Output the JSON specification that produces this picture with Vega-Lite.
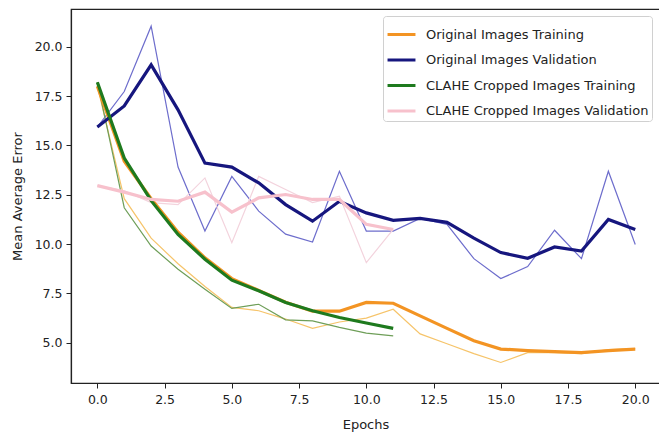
{
  "$schema": "https://vega.github.io/schema/vega-lite/v6.json",
  "width": 589,
  "height": 374,
  "autosize": {"type": "none"},
  "padding": {"left": 71, "top": 9, "right": 0, "bottom": 56},
  "background": "white",
  "config": {
    "font": "DejaVu Sans",
    "view": {"stroke": "#222", "strokeWidth": 1.2},
    "axis": {
      "grid": false,
      "domainColor": "#222",
      "domainWidth": 1.2,
      "tickColor": "#222",
      "tickSize": 5,
      "labelFont": "DejaVu Sans",
      "labelFontSize": 12.5,
      "labelColor": "#222",
      "titleFont": "DejaVu Sans",
      "titleFontSize": 13,
      "titleFontWeight": "normal",
      "titleColor": "#222"
    }
  },
  "datasets": {
    "rows": [
      {"epoch": 0, "series": "Original Images Training", "kind": "raw", "value": 18.0},
      {"epoch": 1, "series": "Original Images Training", "kind": "raw", "value": 12.3},
      {"epoch": 2, "series": "Original Images Training", "kind": "raw", "value": 10.3},
      {"epoch": 3, "series": "Original Images Training", "kind": "raw", "value": 9.0},
      {"epoch": 4, "series": "Original Images Training", "kind": "raw", "value": 7.85},
      {"epoch": 5, "series": "Original Images Training", "kind": "raw", "value": 6.79},
      {"epoch": 6, "series": "Original Images Training", "kind": "raw", "value": 6.62},
      {"epoch": 7, "series": "Original Images Training", "kind": "raw", "value": 6.2},
      {"epoch": 8, "series": "Original Images Training", "kind": "raw", "value": 5.73},
      {"epoch": 9, "series": "Original Images Training", "kind": "raw", "value": 6.05},
      {"epoch": 10, "series": "Original Images Training", "kind": "raw", "value": 6.25},
      {"epoch": 11, "series": "Original Images Training", "kind": "raw", "value": 6.7},
      {"epoch": 12, "series": "Original Images Training", "kind": "raw", "value": 5.45},
      {"epoch": 13, "series": "Original Images Training", "kind": "raw", "value": 4.95},
      {"epoch": 14, "series": "Original Images Training", "kind": "raw", "value": 4.45},
      {"epoch": 15, "series": "Original Images Training", "kind": "raw", "value": 4.0},
      {"epoch": 16, "series": "Original Images Training", "kind": "raw", "value": 4.5},
      {"epoch": 17, "series": "Original Images Training", "kind": "raw", "value": 4.5},
      {"epoch": 18, "series": "Original Images Training", "kind": "raw", "value": 4.45},
      {"epoch": 19, "series": "Original Images Training", "kind": "raw", "value": 4.65},
      {"epoch": 20, "series": "Original Images Training", "kind": "raw", "value": 4.7},
      {"epoch": 0, "series": "Original Images Validation", "kind": "raw", "value": 15.93},
      {"epoch": 1, "series": "Original Images Validation", "kind": "raw", "value": 17.73},
      {"epoch": 2, "series": "Original Images Validation", "kind": "raw", "value": 21.04},
      {"epoch": 3, "series": "Original Images Validation", "kind": "raw", "value": 13.9},
      {"epoch": 4, "series": "Original Images Validation", "kind": "raw", "value": 10.66},
      {"epoch": 5, "series": "Original Images Validation", "kind": "raw", "value": 13.43},
      {"epoch": 6, "series": "Original Images Validation", "kind": "raw", "value": 11.67},
      {"epoch": 7, "series": "Original Images Validation", "kind": "raw", "value": 10.5},
      {"epoch": 8, "series": "Original Images Validation", "kind": "raw", "value": 10.1},
      {"epoch": 9, "series": "Original Images Validation", "kind": "raw", "value": 13.69},
      {"epoch": 10, "series": "Original Images Validation", "kind": "raw", "value": 10.66},
      {"epoch": 11, "series": "Original Images Validation", "kind": "raw", "value": 10.66},
      {"epoch": 12, "series": "Original Images Validation", "kind": "raw", "value": 11.3},
      {"epoch": 13, "series": "Original Images Validation", "kind": "raw", "value": 11.0},
      {"epoch": 14, "series": "Original Images Validation", "kind": "raw", "value": 9.26},
      {"epoch": 15, "series": "Original Images Validation", "kind": "raw", "value": 8.25},
      {"epoch": 16, "series": "Original Images Validation", "kind": "raw", "value": 8.86},
      {"epoch": 17, "series": "Original Images Validation", "kind": "raw", "value": 10.7},
      {"epoch": 18, "series": "Original Images Validation", "kind": "raw", "value": 9.26},
      {"epoch": 19, "series": "Original Images Validation", "kind": "raw", "value": 13.69},
      {"epoch": 20, "series": "Original Images Validation", "kind": "raw", "value": 9.98},
      {"epoch": 0, "series": "CLAHE Cropped Images Training", "kind": "raw", "value": 18.2},
      {"epoch": 1, "series": "CLAHE Cropped Images Training", "kind": "raw", "value": 11.84},
      {"epoch": 2, "series": "CLAHE Cropped Images Training", "kind": "raw", "value": 9.9},
      {"epoch": 3, "series": "CLAHE Cropped Images Training", "kind": "raw", "value": 8.72},
      {"epoch": 4, "series": "CLAHE Cropped Images Training", "kind": "raw", "value": 7.71},
      {"epoch": 5, "series": "CLAHE Cropped Images Training", "kind": "raw", "value": 6.74},
      {"epoch": 6, "series": "CLAHE Cropped Images Training", "kind": "raw", "value": 6.95},
      {"epoch": 7, "series": "CLAHE Cropped Images Training", "kind": "raw", "value": 6.16},
      {"epoch": 8, "series": "CLAHE Cropped Images Training", "kind": "raw", "value": 6.11},
      {"epoch": 9, "series": "CLAHE Cropped Images Training", "kind": "raw", "value": 5.78},
      {"epoch": 10, "series": "CLAHE Cropped Images Training", "kind": "raw", "value": 5.49},
      {"epoch": 11, "series": "CLAHE Cropped Images Training", "kind": "raw", "value": 5.35},
      {"epoch": 0, "series": "CLAHE Cropped Images Validation", "kind": "raw", "value": 12.96},
      {"epoch": 1, "series": "CLAHE Cropped Images Validation", "kind": "raw", "value": 12.7},
      {"epoch": 2, "series": "CLAHE Cropped Images Validation", "kind": "raw", "value": 12.1},
      {"epoch": 3, "series": "CLAHE Cropped Images Validation", "kind": "raw", "value": 12.0},
      {"epoch": 4, "series": "CLAHE Cropped Images Validation", "kind": "raw", "value": 13.35},
      {"epoch": 5, "series": "CLAHE Cropped Images Validation", "kind": "raw", "value": 10.07},
      {"epoch": 6, "series": "CLAHE Cropped Images Validation", "kind": "raw", "value": 13.43},
      {"epoch": 7, "series": "CLAHE Cropped Images Validation", "kind": "raw", "value": 12.76},
      {"epoch": 8, "series": "CLAHE Cropped Images Validation", "kind": "raw", "value": 12.1},
      {"epoch": 9, "series": "CLAHE Cropped Images Validation", "kind": "raw", "value": 12.43},
      {"epoch": 10, "series": "CLAHE Cropped Images Validation", "kind": "raw", "value": 9.06},
      {"epoch": 11, "series": "CLAHE Cropped Images Validation", "kind": "raw", "value": 10.74},
      {"epoch": 0, "series": "Original Images Training", "kind": "smooth", "value": 18.0},
      {"epoch": 1, "series": "Original Images Training", "kind": "smooth", "value": 14.2},
      {"epoch": 2, "series": "Original Images Training", "kind": "smooth", "value": 12.3},
      {"epoch": 3, "series": "Original Images Training", "kind": "smooth", "value": 10.6},
      {"epoch": 4, "series": "Original Images Training", "kind": "smooth", "value": 9.3},
      {"epoch": 5, "series": "Original Images Training", "kind": "smooth", "value": 8.25},
      {"epoch": 6, "series": "Original Images Training", "kind": "smooth", "value": 7.65},
      {"epoch": 7, "series": "Original Images Training", "kind": "smooth", "value": 7.05},
      {"epoch": 8, "series": "Original Images Training", "kind": "smooth", "value": 6.6},
      {"epoch": 9, "series": "Original Images Training", "kind": "smooth", "value": 6.6},
      {"epoch": 10, "series": "Original Images Training", "kind": "smooth", "value": 7.04},
      {"epoch": 11, "series": "Original Images Training", "kind": "smooth", "value": 7.0},
      {"epoch": 12, "series": "Original Images Training", "kind": "smooth", "value": 6.36},
      {"epoch": 13, "series": "Original Images Training", "kind": "smooth", "value": 5.73},
      {"epoch": 14, "series": "Original Images Training", "kind": "smooth", "value": 5.1},
      {"epoch": 15, "series": "Original Images Training", "kind": "smooth", "value": 4.68},
      {"epoch": 16, "series": "Original Images Training", "kind": "smooth", "value": 4.6},
      {"epoch": 17, "series": "Original Images Training", "kind": "smooth", "value": 4.55},
      {"epoch": 18, "series": "Original Images Training", "kind": "smooth", "value": 4.5},
      {"epoch": 19, "series": "Original Images Training", "kind": "smooth", "value": 4.6},
      {"epoch": 20, "series": "Original Images Training", "kind": "smooth", "value": 4.68},
      {"epoch": 0, "series": "Original Images Validation", "kind": "smooth", "value": 15.93},
      {"epoch": 1, "series": "Original Images Validation", "kind": "smooth", "value": 17.0},
      {"epoch": 2, "series": "Original Images Validation", "kind": "smooth", "value": 19.08},
      {"epoch": 3, "series": "Original Images Validation", "kind": "smooth", "value": 16.8},
      {"epoch": 4, "series": "Original Images Validation", "kind": "smooth", "value": 14.1},
      {"epoch": 5, "series": "Original Images Validation", "kind": "smooth", "value": 13.9},
      {"epoch": 6, "series": "Original Images Validation", "kind": "smooth", "value": 13.1},
      {"epoch": 7, "series": "Original Images Validation", "kind": "smooth", "value": 12.0},
      {"epoch": 8, "series": "Original Images Validation", "kind": "smooth", "value": 11.16},
      {"epoch": 9, "series": "Original Images Validation", "kind": "smooth", "value": 12.17},
      {"epoch": 10, "series": "Original Images Validation", "kind": "smooth", "value": 11.58},
      {"epoch": 11, "series": "Original Images Validation", "kind": "smooth", "value": 11.2},
      {"epoch": 12, "series": "Original Images Validation", "kind": "smooth", "value": 11.3},
      {"epoch": 13, "series": "Original Images Validation", "kind": "smooth", "value": 11.1},
      {"epoch": 14, "series": "Original Images Validation", "kind": "smooth", "value": 10.3},
      {"epoch": 15, "series": "Original Images Validation", "kind": "smooth", "value": 9.57},
      {"epoch": 16, "series": "Original Images Validation", "kind": "smooth", "value": 9.28},
      {"epoch": 17, "series": "Original Images Validation", "kind": "smooth", "value": 9.85},
      {"epoch": 18, "series": "Original Images Validation", "kind": "smooth", "value": 9.65},
      {"epoch": 19, "series": "Original Images Validation", "kind": "smooth", "value": 11.25},
      {"epoch": 20, "series": "Original Images Validation", "kind": "smooth", "value": 10.74},
      {"epoch": 0, "series": "CLAHE Cropped Images Training", "kind": "smooth", "value": 18.2},
      {"epoch": 1, "series": "CLAHE Cropped Images Training", "kind": "smooth", "value": 14.36},
      {"epoch": 2, "series": "CLAHE Cropped Images Training", "kind": "smooth", "value": 12.2},
      {"epoch": 3, "series": "CLAHE Cropped Images Training", "kind": "smooth", "value": 10.49},
      {"epoch": 4, "series": "CLAHE Cropped Images Training", "kind": "smooth", "value": 9.23},
      {"epoch": 5, "series": "CLAHE Cropped Images Training", "kind": "smooth", "value": 8.17},
      {"epoch": 6, "series": "CLAHE Cropped Images Training", "kind": "smooth", "value": 7.63},
      {"epoch": 7, "series": "CLAHE Cropped Images Training", "kind": "smooth", "value": 7.04},
      {"epoch": 8, "series": "CLAHE Cropped Images Training", "kind": "smooth", "value": 6.62},
      {"epoch": 9, "series": "CLAHE Cropped Images Training", "kind": "smooth", "value": 6.28},
      {"epoch": 10, "series": "CLAHE Cropped Images Training", "kind": "smooth", "value": 6.0},
      {"epoch": 11, "series": "CLAHE Cropped Images Training", "kind": "smooth", "value": 5.73},
      {"epoch": 0, "series": "CLAHE Cropped Images Validation", "kind": "smooth", "value": 12.96},
      {"epoch": 1, "series": "CLAHE Cropped Images Validation", "kind": "smooth", "value": 12.63},
      {"epoch": 2, "series": "CLAHE Cropped Images Validation", "kind": "smooth", "value": 12.26},
      {"epoch": 3, "series": "CLAHE Cropped Images Validation", "kind": "smooth", "value": 12.17},
      {"epoch": 4, "series": "CLAHE Cropped Images Validation", "kind": "smooth", "value": 12.63},
      {"epoch": 5, "series": "CLAHE Cropped Images Validation", "kind": "smooth", "value": 11.62},
      {"epoch": 6, "series": "CLAHE Cropped Images Validation", "kind": "smooth", "value": 12.34},
      {"epoch": 7, "series": "CLAHE Cropped Images Validation", "kind": "smooth", "value": 12.51},
      {"epoch": 8, "series": "CLAHE Cropped Images Validation", "kind": "smooth", "value": 12.26},
      {"epoch": 9, "series": "CLAHE Cropped Images Validation", "kind": "smooth", "value": 12.26},
      {"epoch": 10, "series": "CLAHE Cropped Images Validation", "kind": "smooth", "value": 11.0},
      {"epoch": 11, "series": "CLAHE Cropped Images Validation", "kind": "smooth", "value": 10.74}
    ]
  },
  "data": {"name": "rows"},
  "encoding": {
    "x": {
      "field": "epoch",
      "type": "quantitative",
      "scale": {"domain": [-0.98, 20.92], "nice": false, "zero": false},
      "axis": {"title": "Epochs", "values": [0, 2.5, 5, 7.5, 10, 12.5, 15, 17.5, 20], "format": ".1f", "labelPadding": 5, "titlePadding": 13}
    },
    "y": {
      "field": "value",
      "type": "quantitative",
      "scale": {"domain": [2.96, 21.91], "nice": false, "zero": false},
      "axis": {"title": "Mean Average Error", "values": [5, 7.5, 10, 12.5, 15, 17.5, 20], "format": ".1f", "labelPadding": 4, "titlePadding": 10}
    }
  },
  "layer": [
    {
      "transform": [{"filter": "datum.kind === 'raw'"}],
      "mark": {"type": "line", "strokeWidth": 1.2, "clip": true},
      "encoding": {
        "color": {
          "field": "series",
          "type": "nominal",
          "scale": {
            "domain": ["Original Images Training", "Original Images Validation", "CLAHE Cropped Images Training", "CLAHE Cropped Images Validation"],
            "range": ["#f6c46a", "#6d6dcc", "#6e9e58", "#f3d3dd"]
          },
          "legend": null
        }
      }
    },
    {
      "transform": [{"filter": "datum.kind === 'smooth'"}],
      "mark": {"type": "line", "strokeWidth": 3.2, "clip": true},
      "encoding": {
        "color": {
          "field": "series",
          "type": "nominal",
          "scale": {
            "domain": ["Original Images Training", "Original Images Validation", "CLAHE Cropped Images Training", "CLAHE Cropped Images Validation"],
            "range": ["#f39423", "#16167e", "#1e7a1e", "#f7c1cc"]
          },
          "legend": {
            "title": null,
            "orient": "none",
            "legendX": 312,
            "legendY": 7,
            "symbolType": "stroke",
            "symbolStrokeWidth": 3,
            "symbolSize": 780,
            "labelFont": "DejaVu Sans",
            "labelFontSize": 13,
            "labelColor": "#222",
            "labelOffset": 9,
            "labelLimit": 400,
            "rowPadding": 2.5,
            "padding": 3,
            "fillColor": "white",
            "strokeColor": "#d0d0d0",
            "cornerRadius": 3
          }
        }
      }
    }
  ],
  "resolve": {"scale": {"color": "independent"}}
}
